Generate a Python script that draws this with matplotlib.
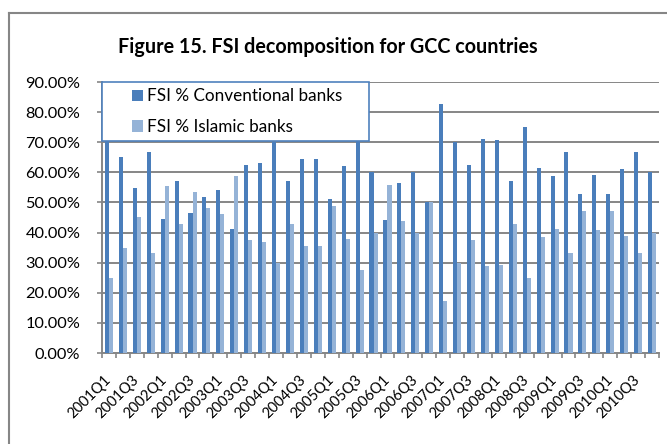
import numpy as np
import matplotlib
matplotlib.use("Agg")
from matplotlib import pyplot as plt
from matplotlib.lines import Line2D
from matplotlib.patches import Rectangle
from matplotlib.ticker import FuncFormatter

# quarters 2001Q1 .. 2010Q4
quarters = ["%dQ%d" % (y, q) for y in range(2001, 2011) for q in range(1, 5)]

conventional = [75.0, 65.0, 54.7, 66.7, 44.4, 57.0, 46.6, 51.9, 54.0, 41.2,
                62.5, 63.0, 70.0, 57.0, 64.3, 64.3, 51.3, 62.0, 72.6, 60.0,
                44.1, 56.3, 60.0, 50.0, 82.6, 70.0, 62.5, 71.0, 70.7, 57.0,
                75.0, 61.5, 58.8, 66.7, 52.8, 59.1, 52.9, 61.1, 66.7, 60.0]
islamic = [25.0, 35.0, 45.3, 33.3, 55.6, 43.0, 53.4, 48.1, 46.0, 58.8,
           37.5, 37.0, 30.0, 43.0, 35.7, 35.7, 48.7, 38.0, 27.4, 40.0,
           55.9, 43.7, 40.0, 50.0, 17.4, 30.0, 37.5, 29.0, 29.3, 43.0,
           25.0, 38.5, 41.2, 33.3, 47.2, 40.9, 47.1, 38.9, 33.3, 40.0]

dark = "#4A7EBB"
light = "#95B3D7"
grey = "#868686"

plt.rcParams['font.family'] = ['Lato', 'DejaVu Sans']

fig = plt.figure(figsize=(6.67, 4.44), dpi=100)
ax = fig.add_axes([102/667, 1 - 353/444, 557/667, 271/444])

x = np.arange(len(quarters))
w = 0.29
b1 = ax.bar(x - w/2, conventional, w, color=dark, label="FSI % Conventional banks", zorder=3)
b2 = ax.bar(x + w/2, islamic, w, color=light, label="FSI % Islamic banks", zorder=3)

ax.set_xlim(-0.5, len(quarters) - 0.5)
ax.set_ylim(0, 90)
ax.set_yticks(np.arange(0, 91, 10))
ax.yaxis.set_major_formatter(FuncFormatter(lambda v, p: "%.2f%%" % v))
ax.yaxis.grid(True, color=grey, linewidth=1.4, zorder=0)
ax.tick_params(axis='y', direction='out', length=3.6, color=grey, width=1.2,
               labelsize=11.8, pad=12)

ax.set_xticks(x[::2])
ax.set_xticklabels(quarters[::2], rotation=45, ha='right', va='center',
                   rotation_mode='anchor', fontsize=10.5)
ax.set_xticks(np.arange(-0.5, len(quarters), 1), minor=True)
ax.tick_params(axis='x', which='major', length=0, pad=18)
ax.tick_params(axis='x', which='minor', direction='out', length=3.6, color=grey, width=1.2)

for s in ['top', 'right']:
    ax.spines[s].set_visible(False)
for s in ['left', 'bottom']:
    ax.spines[s].set_color(grey)
    ax.spines[s].set_linewidth(1.4)

# legend box drawn separately so the entries can sit further in
box = Rectangle((0, 0.782), 0.479, 0.218, transform=ax.transAxes, facecolor='white',
                edgecolor="#4F81BD", linewidth=1.2, zorder=4, clip_on=False)
ax.add_patch(box)
leg = ax.legend(handles=[b1, b2], loc='center left',
                bbox_to_anchor=(30/557, 0.891), fontsize=12.3,
                handlelength=0.65, handleheight=0.65, handletextpad=0.25,
                borderpad=0, labelspacing=0.85, frameon=False, borderaxespad=0)
leg.set_zorder(5)

fig.text(328/667, 1 - 47/444, "Figure 15. FSI decomposition for GCC countries",
         ha='center', va='center', fontsize=14.2, fontweight='bold')

# chart frame (left and top edges visible)
fig.add_artist(Line2D([9/667, 9/667], [0, 1 - 13/444], color=grey, linewidth=1.5))
fig.add_artist(Line2D([9/667, 1], [1 - 13/444, 1 - 13/444], color=grey, linewidth=1.5))

fig.savefig("out.png", dpi=100)
